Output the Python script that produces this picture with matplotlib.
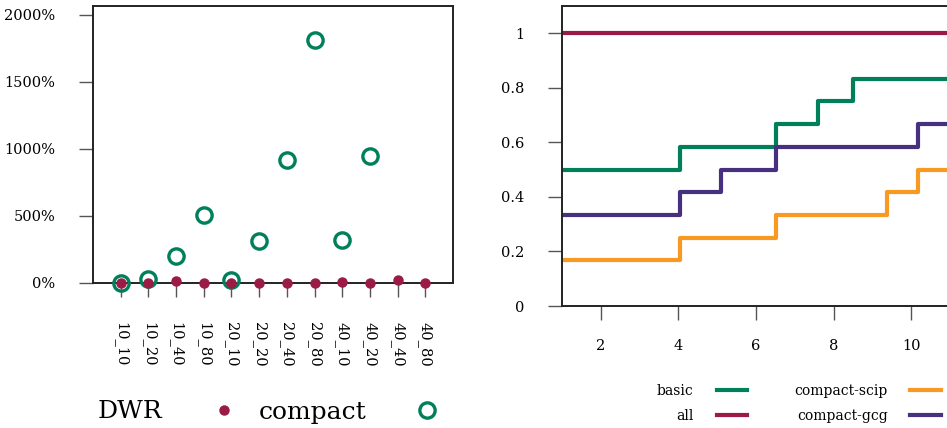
import numpy as np
import matplotlib
matplotlib.use('Agg')
import matplotlib.pyplot as plt
from matplotlib.ticker import FuncFormatter

plt.rcParams['font.family'] = ['DejaVu Serif']

# ── data: left panel (relative gap per instance) ─────────────────────────────
instances   = ['10_10', '10_20', '10_40', '10_80', '20_10', '20_20',
               '20_40', '20_80', '40_10', '40_20', '40_40', '40_80']
dwr_pct     = [0, 0, 12, 0, 0, 0, 0, 0, 5, 0, 20, 0]
compact_pct = [0, 32, 202, 506, 20, 314, 919, 1816, 324, 947, np.nan, np.nan]

# ── data: right panel (step curves) ──────────────────────────────────────────
basic_x   = [1, 4.03, 6.5, 7.6, 8.5, 12]
basic_y   = [0.5, 0.583, 0.667, 0.75, 0.833, 0.833]
all_x     = [1, 12]
all_y     = [1.0, 1.0]
scip_x    = [1, 4.03, 6.5, 9.37, 10.18, 12]
scip_y    = [0.167, 0.25, 0.333, 0.417, 0.5, 0.5]
gcg_x     = [1, 4.03, 5.1, 6.5, 10.18, 12]
gcg_y     = [0.333, 0.417, 0.5, 0.583, 0.667, 0.667]

GREEN  = '#00805a'
RED    = '#9b1b45'
ORANGE = '#f89a22'
PURPLE = '#47307f'
TICKC  = '#555555'

fig = plt.figure(figsize=(9.47, 4.28), dpi=100)

# ── left panel ───────────────────────────────────────────────────────────────
ax1 = fig.add_axes([93/947, 1-283/428, 360/947, 277/428])
xpos = np.arange(len(instances))
h_cmp, = ax1.plot(xpos, compact_pct, 'o', ms=11, mfc='none', mec=GREEN,
                  mew=2.4, clip_on=False, zorder=3, label='compact')
h_dwr, = ax1.plot(xpos, dwr_pct, 'o', ms=6.5, color=RED, mec=RED,
                  clip_on=False, zorder=4, label='DWR')
ax1.set_xlim(-1, len(instances))
ax1.set_ylim(0, 2067)
ax1.set_yticks([0, 500, 1000, 1500, 2000])
ax1.yaxis.set_major_formatter(FuncFormatter(lambda v, p: f'{v:.0f}%'))
ax1.set_xticks(xpos)
ax1.set_xticklabels(instances, rotation=-90)
ax1.tick_params(axis='both', length=10, width=1, color=TICKC,
                labelsize=10.5, direction='out')
ax1.tick_params(axis='y', pad=17)
ax1.tick_params(axis='x', pad=18)
for s in ax1.spines.values():
    s.set_linewidth(1.4)
    s.set_color('#222222')

fig.legend(handles=[h_dwr, h_cmp], labels=['DWR', 'compact'], ncol=2,
           markerfirst=False, frameon=False, fontsize=18,
           handlelength=2.0, handletextpad=1.44, columnspacing=0.4,
           borderpad=0, borderaxespad=0, loc='center left',
           bbox_to_anchor=(98/947, 1-412/428), bbox_transform=fig.transFigure)

# ── right panel ──────────────────────────────────────────────────────────────
ax2 = fig.add_axes([562/947, 1-306/428, 427/947, 300/428])
lw = 3.0
h_basic, = ax2.step(basic_x, basic_y, where='post', color=GREEN, lw=lw, label='basic')
h_all,   = ax2.step(all_x, all_y, where='post', color=RED, lw=lw, label='all')
h_scip,  = ax2.step(scip_x, scip_y, where='post', color=ORANGE, lw=lw, label='compact-scip')
h_gcg,   = ax2.step(gcg_x, gcg_y, where='post', color=PURPLE, lw=lw, label='compact-gcg')
ax2.set_xlim(1, 12)
ax2.set_ylim(0, 1.1)
ax2.set_xticks([2, 4, 6, 8, 10])
ax2.set_yticks([0, 0.2, 0.4, 0.6, 0.8, 1.0])
ax2.set_yticklabels(['0', '0.2', '0.4', '0.6', '0.8', '1'])
ax2.tick_params(axis='both', length=10, width=1, color=TICKC,
                labelsize=10.5, direction='out')
ax2.tick_params(axis='y', pad=17)
ax2.tick_params(axis='x', pad=14)
for s in ax2.spines.values():
    s.set_linewidth(1.4)
    s.set_color('#222222')

fig.legend(handles=[h_basic, h_all, h_scip, h_gcg],
           labels=['basic', 'all', 'compact-scip', 'compact-gcg'], ncol=2,
           markerfirst=False, frameon=False, fontsize=10,
           handlelength=2.2, handletextpad=1.65, columnspacing=3.4,
           labelspacing=0.8, borderpad=0, borderaxespad=0, loc='upper right',
           bbox_to_anchor=(941/947, 1-384/428), bbox_transform=fig.transFigure)

fig.savefig('out.png', dpi=100)
